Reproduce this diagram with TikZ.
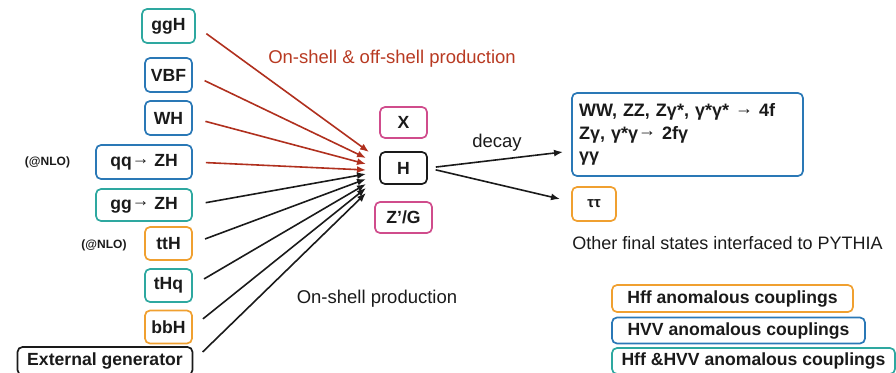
\documentclass[tikz,border=0pt]{standalone}
\usepackage{fontspec}
\setmainfont{Liberation Sans}
\usetikzlibrary{arrows.meta}
\definecolor{cteal}{HTML}{2EA8A0}
\definecolor{cblue}{HTML}{2A78B6}
\definecolor{corange}{HTML}{F0A030}
\definecolor{cmag}{HTML}{D04C8C}
\definecolor{cred}{HTML}{B0301E}
\definecolor{credtxt}{HTML}{B83A22}
\definecolor{cblack}{HTML}{1A1A1A}
\newcommand{\myarr}{\raisebox{2.2pt}{→}}
\tikzset{
  box/.style={draw, rounded corners=5pt, line width=1.7pt, inner sep=0pt,
    font=\fontsize{17.6}{20}\selectfont\bfseries, text=cblack},
  tealbox/.style={box, draw=cteal},
  bluebox/.style={box, draw=cblue},
  orangebox/.style={box, draw=corange},
  magbox/.style={box, draw=cmag},
  blackbox/.style={box, draw=cblack},
  nlo/.style={font=\fontsize{12}{14}\selectfont\bfseries, text=cblack, inner sep=0pt},
  lbl/.style={font=\fontsize{18.5}{22}\selectfont, text=cblack, inner sep=0pt},
  redarr/.style={draw=cred, line width=1.6pt, shorten <=13pt, -{Latex[length=9pt,width=7pt]}},
  blkarr/.style={draw=cblack, line width=1.6pt, shorten <=13pt, -{Latex[length=9pt,width=7pt]}},
  decarr/.style={draw=cblack, line width=1.6pt, shorten <=8pt, -{Latex[length=9pt,width=7pt]}}
}
\begin{document}
\begin{tikzpicture}[x=1pt,y=-1pt]
\useasboundingbox (0,0) rectangle (896,372);
\clip (0,0) rectangle (896,372);
% production boxes
\node[tealbox, minimum width=53pt, minimum height=34pt] (ggH) at (168.5,26) {ggH};
\node[bluebox, minimum width=47pt, minimum height=34pt] (VBF) at (168.5,75) {VBF};
\node[bluebox, minimum width=47pt, minimum height=34pt] (WH) at (168.5,118) {WH};
\node[bluebox, minimum width=96pt, minimum height=34pt] (qqZH) at (144,162) {qq\myarr\ ZH};
\node[tealbox, minimum width=96pt, minimum height=32pt] (ggZH) at (144,205) {gg\myarr\ ZH};
\node[orangebox, minimum width=47pt, minimum height=33pt] (ttH) at (168.5,243.5) {ttH};
\node[tealbox, minimum width=47pt, minimum height=33pt] (tHq) at (168.5,285.5) {tHq};
\node[orangebox, minimum width=47pt, minimum height=33pt] (bbH) at (168.5,327) {bbH};
\node[blackbox, minimum width=175pt, minimum height=28pt] (ext) at (105,361) {External generator};
\node[nlo] (nlo1) at (47.5,162) {(@NLO)};
\node[nlo] (nlo2) at (104,245) {(@NLO)};
% resonance boxes
\node[magbox, minimum width=47pt, minimum height=31pt] (X) at (403.5,122.5) {X};
\node[blackbox, minimum width=47pt, minimum height=32pt] (H) at (403.5,168) {H};
\node[magbox, minimum width=57pt, minimum height=31pt] (ZG) at (403.5,217.5) {Z'/G};
% arrow targets
\coordinate (t1) at (369,152);
\coordinate (t2) at (366,158);
\coordinate (t3) at (366,164);
\coordinate (t4) at (366,170);
\coordinate (t5) at (366,174);
\coordinate (t6) at (366,179);
\coordinate (t7) at (366,184);
\coordinate (t8) at (366,188);
\coordinate (t9) at (366,193);
\draw[redarr] (ggH.east) -- (t1);
\draw[redarr] (VBF.east) -- (t2);
\draw[redarr] (WH.east) -- (t3);
\draw[redarr] (qqZH.east) -- (t4);
\draw[blkarr] (ggZH.east) -- (t5);
\draw[blkarr] (ttH.east) -- (t6);
\draw[blkarr] (tHq.east) -- (t7);
\draw[blkarr] (bbH.east) -- (t8);
\draw[blkarr] (ext.east) -- (t9);
% labels
\node[lbl, text=credtxt] (offshell) at (392,59) {On-shell \& off-shell production};
\node[lbl] (onshell) at (377,299) {On-shell production};
\node[lbl] (decay) at (497,143) {decay};
% decay products
\node[bluebox, minimum width=231pt, minimum height=83pt, text width=217pt, align=left,
  font=\fontsize{18}{22.5}\selectfont\bfseries] (WW) at (687.5,134.5)
  {WW, ZZ, Zγ*, γ*γ* \myarr\ 4f\\Zγ, γ*γ\myarr\ 2fγ\\γγ};
\node[orangebox, minimum width=44pt, minimum height=34pt, font=\fontsize{15}{18}\selectfont\bfseries] (tautau) at (594,204) {ττ};
\coordinate (d1) at (563,152);
\coordinate (d2) at (560,199);
\draw[decarr] (H.east) -- (d1);
\draw[decarr] (H.east) -- (d2);
\node[lbl, font=\fontsize{18}{22}\selectfont] (pythia) at (727.5,243) {Other final states interfaced to PYTHIA};
% legend
\node[orangebox, minimum width=241pt, minimum height=27pt] (lhff) at (732.5,298.5) {Hff anomalous couplings};
\node[bluebox, minimum width=253pt, minimum height=26pt] (lhvv) at (738.5,330.5) {HVV anomalous couplings};
\node[tealbox, minimum width=283pt, minimum height=26pt] (lboth) at (753.5,361) {Hff \&HVV anomalous couplings};
\end{tikzpicture}
\end{document}
